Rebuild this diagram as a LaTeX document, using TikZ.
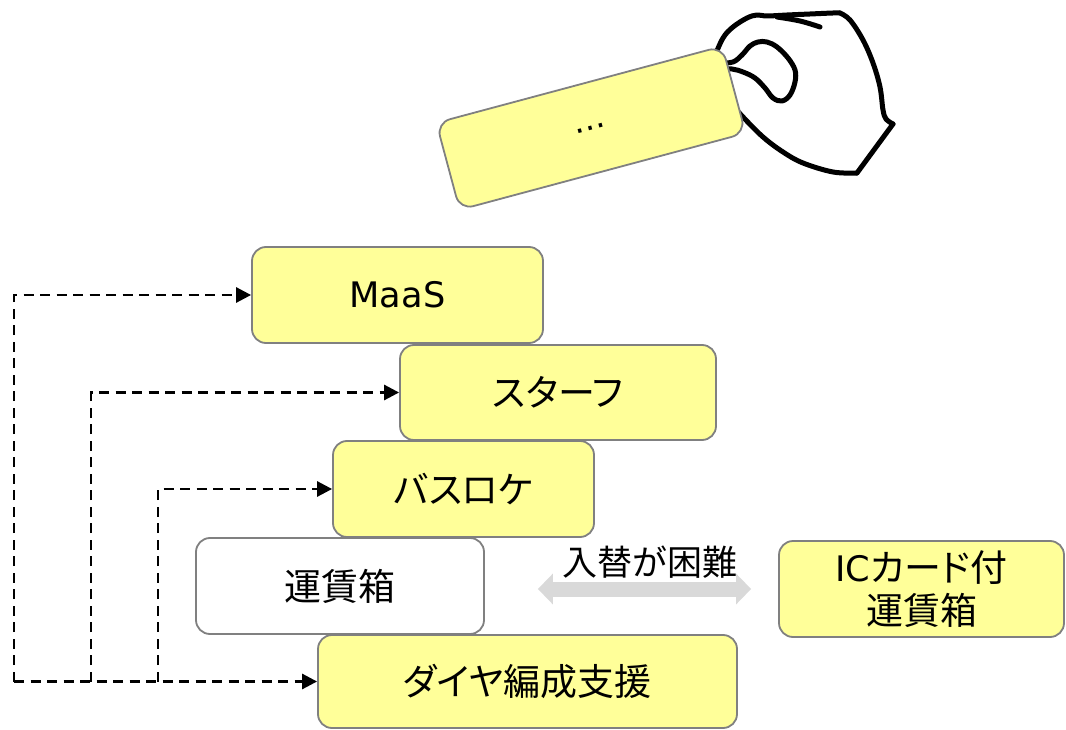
\documentclass[tikz,border=0pt]{standalone}
\usepackage{fontspec}
\setmainfont{Noto Sans CJK JP}[RawFeature=+palt]
\newfontfamily\latinfont{DejaVu Sans}[Scale=0.95]
\usetikzlibrary{arrows.meta}
\definecolor{boxfill}{HTML}{FFFF99}
\definecolor{boxline}{HTML}{808080}
\definecolor{swapgray}{HTML}{D9D9D9}

\begin{document}
\begin{tikzpicture}[x=1pt,y=-1pt,
  block/.style={draw=boxline, line width=1.8pt, fill=boxfill, rounded corners=14pt,
    inner sep=0pt, align=center, font=\fontsize{37}{43}\selectfont},
  plainblock/.style={block, fill=white},
  feed/.style={line width=2.8pt, dash pattern=on 10pt off 6.5pt,
    -{Triangle[length=15pt,width=15pt]}},
  swap/.style={draw=swapgray, line width=15pt,
    {Triangle[length=15pt,width=30pt]}-{Triangle[length=15pt,width=30pt]}},
  hand/.style={line width=5pt, line cap=round, line join=round}]

\useasboundingbox (0,0) rectangle (1066,730);

% hand holding the card
\draw[hand] plot[smooth, tension=0.6] coordinates {
  (714,58) (723,38) (733,27) (747,18) (757,15) (767,16) (787,15) (810,14) (833,13) (840,13)};
\draw[hand] plot[smooth, tension=0.6] coordinates {
  (840,13) (850,20) (863,40) (873,63) (880,87) (883,110) (886,119) (893,124)};
\draw[hand] (893,124) -- (857,173);
\draw[hand] plot[smooth, tension=0.6] coordinates {
  (857,173) (833,172) (803,163) (783,152) (763,137) (743,117) (728,100)};
\draw[hand] plot[smooth, tension=0.6] coordinates {(777,17) (800,21) (820,27)};
\draw[hand] plot[smooth, tension=0.6] coordinates {
  (720,63) (733,62) (742,55) (750,46) (758,42) (767,42) (777,47) (788,58) (795,70)
  (795,82) (790,95) (782,101) (773,98) (765,88) (755,78) (743,72) (732,69) (720,69)};

% the card in hand
\node[block, minimum width=296pt, minimum height=90pt, rotate=15] (card) at (591,128)
  {\latinfont\fontsize{34}{34}\selectfont …};

% stacked function blocks
\node[block, minimum width=291pt, minimum height=96pt] (maas) at (397.5,295) {\latinfont MaaS};
\node[block, minimum width=316pt, minimum height=95pt] (star) at (558,392.5) {スターフ};
\node[block, minimum width=261pt, minimum height=96pt] (bus) at (463.5,489) {バスロケ};
\node[plainblock, minimum width=288pt, minimum height=96pt] (fare) at (340,586) {運賃箱};
\node[block, minimum width=419pt, minimum height=93pt] (dia) at (527.5,681.5) {ダイヤ編成支援};
\node[block, minimum width=285pt, minimum height=96pt] (ic) at (921.5,589)
  {{\latinfont IC}カード付\\運賃箱};

% replacement between fare boxes
\draw[swap, shorten <=53pt, shorten >=27pt] (fare.east |- ic.west) -- (ic.west);
\node[font=\fontsize{35}{40}\selectfont, inner sep=0pt] (hard) at (650,562) {入替が困難};

% data feeds from the timetable support
\coordinate (c1) at (14,681.5);
\coordinate (c2) at (91,681.5);
\coordinate (c3) at (158,681.5);
\draw[feed] (c1) |- (maas.west);
\draw[feed] (c2) |- (star.west);
\draw[feed] (c3) |- (bus.west);
\draw[feed] (c1) -- (dia.west);
\end{tikzpicture}
\end{document}
